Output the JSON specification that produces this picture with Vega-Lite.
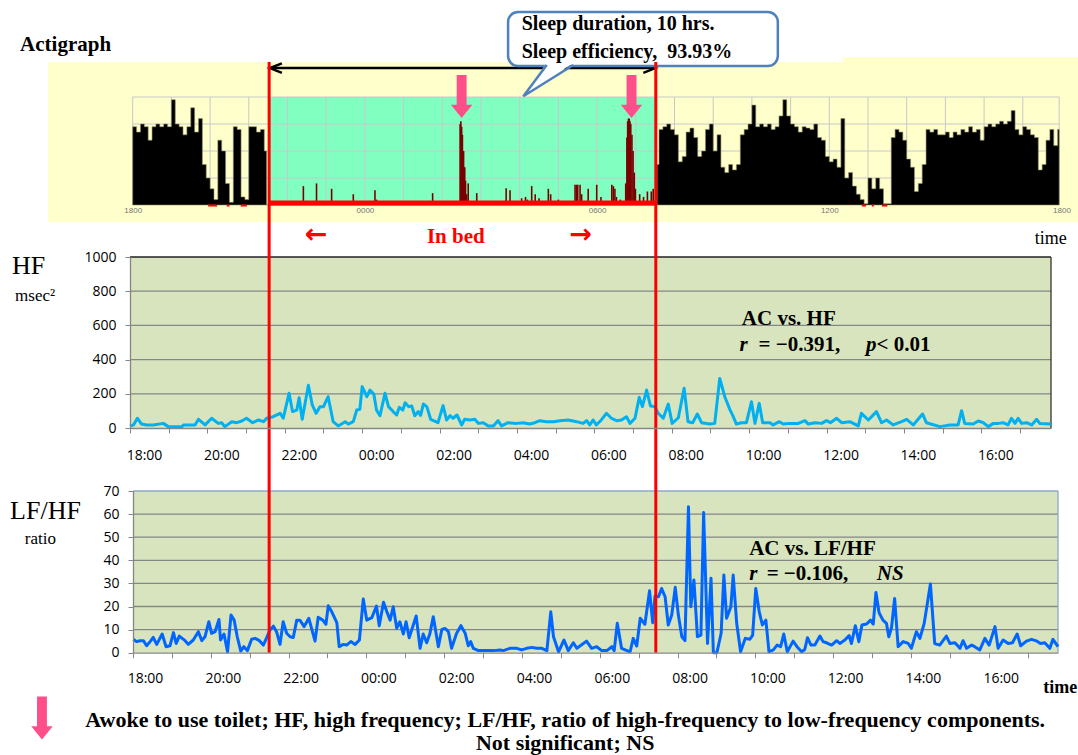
{
"$schema": "https://vega.github.io/schema/vega-lite/v6.json",
"width": 1078, "height": 755,
"autosize": {"type": "none"},
"padding": 0,
"background": "white",
"config": {"view": {"stroke": null}, "font": "Liberation Serif", "axis": {"grid": false, "title": null}},
"datasets": {
"actBg": [{"h":15.81,"h2":42.6,"v":-63,"v2":530},{"h":36.35,"h2":42.6,"v":-63,"v2":548}],
"actBed": [{"h":21.5,"h2":31.5,"v":0,"v2":400}],
"actGridV": [{"h":18,"v":0,"v2":400},{"h":19,"v":0,"v2":400},{"h":20,"v":0,"v2":400},{"h":21,"v":0,"v2":400},{"h":22,"v":0,"v2":400},{"h":23,"v":0,"v2":400},{"h":24,"v":0,"v2":400},{"h":25,"v":0,"v2":400},{"h":26,"v":0,"v2":400},{"h":27,"v":0,"v2":400},{"h":28,"v":0,"v2":400},{"h":29,"v":0,"v2":400},{"h":30,"v":0,"v2":400},{"h":31,"v":0,"v2":400},{"h":32,"v":0,"v2":400},{"h":33,"v":0,"v2":400},{"h":34,"v":0,"v2":400},{"h":35,"v":0,"v2":400},{"h":36,"v":0,"v2":400},{"h":37,"v":0,"v2":400},{"h":38,"v":0,"v2":400},{"h":39,"v":0,"v2":400},{"h":40,"v":0,"v2":400},{"h":41,"v":0,"v2":400},{"h":41.94,"v":0,"v2":400}],
"actGridH": [{"h":18,"h2":41.94,"v":100},{"h":18,"h2":41.94,"v":200},{"h":18,"h2":41.94,"v":300},{"h":18,"h2":41.94,"v":400}],
"actAwake": [
{"h":18.0,"v":290},{"h":18.1,"v":270},{"h":18.2,"v":300},{"h":18.3,"v":290},{"h":18.4,"v":240},{"h":18.5,"v":290},{"h":18.6,"v":300},{"h":18.7,"v":290},{"h":18.8,"v":300},{"h":18.9,"v":290},{"h":19.0,"v":390},{"h":19.1,"v":300},{"h":19.2,"v":290},{"h":19.3,"v":260},{"h":19.4,"v":290},{"h":19.5,"v":360},{"h":19.6,"v":270},{"h":19.7,"v":320},{"h":19.8,"v":150},{"h":19.9,"v":100},{"h":20.0,"v":60},{"h":20.1,"v":20},{"h":20.2,"v":240},{"h":20.3,"v":200},{"h":20.4,"v":80},{"h":20.5,"v":10},{"h":20.6,"v":290},{"h":20.7,"v":280},{"h":20.8,"v":30},{"h":20.9,"v":20},{"h":21.0,"v":290},{"h":21.1,"v":290},{"h":21.2,"v":270},{"h":21.3,"v":280},{"h":21.4,"v":200},{"h":21.46,"v":0},
{"h":31.53,"v":0},{"h":31.55,"v":150},{"h":31.6,"v":280},{"h":31.7,"v":290},{"h":31.8,"v":300},{"h":31.9,"v":280},{"h":32.0,"v":260},{"h":32.1,"v":160},{"h":32.2,"v":180},{"h":32.3,"v":270},{"h":32.4,"v":285},{"h":32.5,"v":250},{"h":32.6,"v":180},{"h":32.7,"v":200},{"h":32.8,"v":280},{"h":32.9,"v":300},{"h":33.0,"v":200},{"h":33.1,"v":260},{"h":33.2,"v":140},{"h":33.3,"v":120},{"h":33.4,"v":150},{"h":33.5,"v":130},{"h":33.6,"v":150},{"h":33.7,"v":260},{"h":33.8,"v":280},{"h":33.9,"v":300},{"h":34.0,"v":370},{"h":34.1,"v":290},{"h":34.2,"v":300},{"h":34.3,"v":290},{"h":34.4,"v":300},{"h":34.5,"v":280},{"h":34.6,"v":290},{"h":34.7,"v":330},{"h":34.8,"v":390},{"h":34.9,"v":330},{"h":35.0,"v":300},{"h":35.1,"v":290},{"h":35.2,"v":270},{"h":35.3,"v":290},{"h":35.4,"v":285},{"h":35.5,"v":280},{"h":35.6,"v":300},{"h":35.7,"v":250},{"h":35.8,"v":240},{"h":35.9,"v":180},{"h":36.0,"v":160},{"h":36.1,"v":170},{"h":36.2,"v":140},{"h":36.3,"v":320},{"h":36.4,"v":100},{"h":36.5,"v":120},{"h":36.6,"v":70},{"h":36.7,"v":40},{"h":36.8,"v":20},{"h":36.9,"v":5},{"h":37.0,"v":100},{"h":37.1,"v":60},{"h":37.2,"v":100},{"h":37.3,"v":60},{"h":37.4,"v":5},{"h":37.5,"v":5},{"h":37.6,"v":250},{"h":37.7,"v":280},{"h":37.8,"v":270},{"h":37.9,"v":240},{"h":38.0,"v":170},{"h":38.1,"v":140},{"h":38.2,"v":50},{"h":38.3,"v":80},{"h":38.4,"v":150},{"h":38.5,"v":280},{"h":38.6,"v":270},{"h":38.7,"v":280},{"h":38.8,"v":260},{"h":38.9,"v":260},{"h":39.0,"v":270},{"h":39.1,"v":250},{"h":39.2,"v":270},{"h":39.3,"v":260},{"h":39.4,"v":280},{"h":39.5,"v":270},{"h":39.6,"v":290},{"h":39.7,"v":270},{"h":39.8,"v":280},{"h":39.9,"v":240},{"h":40.0,"v":290},{"h":40.1,"v":300},{"h":40.2,"v":290},{"h":40.3,"v":300},{"h":40.4,"v":310},{"h":40.5,"v":300},{"h":40.6,"v":310},{"h":40.7,"v":350},{"h":40.8,"v":280},{"h":40.9,"v":260},{"h":41.0,"v":290},{"h":41.1,"v":280},{"h":41.2,"v":260},{"h":41.3,"v":250},{"h":41.4,"v":130},{"h":41.5,"v":150},{"h":41.6,"v":240},{"h":41.7,"v":280},{"h":41.8,"v":220},{"h":41.9,"v":280},{"h":41.94,"v":280}],
"actBedSpikes": [{"h":21.59,"v":15},{"h":21.8,"v":15},{"h":22.41,"v":70},{"h":22.75,"v":80},{"h":23.14,"v":60},{"h":23.7,"v":40},{"h":24.26,"v":55},{"h":24.3,"v":20},{"h":25.75,"v":44},{"h":26.46,"v":300},{"h":26.48,"v":310},{"h":26.5,"v":290},{"h":26.52,"v":260},{"h":26.55,"v":200},{"h":26.58,"v":140},{"h":26.6,"v":90},{"h":26.63,"v":40},{"h":26.67,"v":80},{"h":26.89,"v":44},{"h":27.65,"v":62},{"h":27.75,"v":55},{"h":28.05,"v":25},{"h":28.15,"v":30},{"h":28.2,"v":20},{"h":28.31,"v":70},{"h":28.4,"v":40},{"h":28.5,"v":25},{"h":28.74,"v":60},{"h":28.8,"v":40},{"h":29.0,"v":20},{"h":29.43,"v":75},{"h":29.47,"v":75},{"h":29.5,"v":75},{"h":29.56,"v":75},{"h":29.6,"v":40},{"h":29.77,"v":60},{"h":29.99,"v":75},{"h":30.1,"v":30},{"h":30.38,"v":75},{"h":30.42,"v":70},{"h":30.46,"v":60},{"h":30.5,"v":30},{"h":30.6,"v":20},{"h":30.74,"v":80},{"h":30.77,"v":250},{"h":30.79,"v":310},{"h":30.81,"v":320},{"h":30.83,"v":320},{"h":30.85,"v":310},{"h":30.87,"v":300},{"h":30.9,"v":260},{"h":30.93,"v":200},{"h":30.96,"v":120},{"h":30.99,"v":60},{"h":31.1,"v":40},{"h":31.2,"v":30},{"h":31.3,"v":50},{"h":31.4,"v":50},{"h":31.45,"v":60}],
"actRedBase": [{"h":21.5,"h2":31.5,"v":7}],
"actZeroMarks": [{"h":19.95,"h2":20.18,"v":-2},{"h":20.43,"h2":20.5,"v":-2},{"h":20.79,"h2":20.95,"v":-2},{"h":36.84,"h2":36.95,"v":-2},{"h":37.1,"h2":37.15,"v":-2},{"h":37.36,"h2":37.5,"v":-2}],
"hfLine": [
{"h":18.00,"v":12},{"h":18.09,"v":18},{"h":18.19,"v":57},{"h":18.30,"v":23},{"h":18.43,"v":18},{"h":18.60,"v":18},{"h":18.86,"v":27},{"h":18.99,"v":8},{"h":19.34,"v":8},{"h":19.38,"v":18},{"h":19.68,"v":18},{"h":19.77,"v":51},{"h":19.94,"v":18},{"h":20.11,"v":57},{"h":20.28,"v":27},{"h":20.37,"v":31},{"h":20.45,"v":8},{"h":20.63,"v":37},{"h":20.76,"v":31},{"h":20.89,"v":41},{"h":21.01,"v":57},{"h":21.17,"v":31},{"h":21.32,"v":47},{"h":21.45,"v":37},{"h":21.53,"v":57},{"h":21.70,"v":66},{"h":21.88,"v":86},{"h":21.96,"v":57},{"h":22.11,"v":203},{"h":22.20,"v":96},{"h":22.31,"v":105},{"h":22.37,"v":177},{"h":22.45,"v":51},{"h":22.61,"v":250},{"h":22.71,"v":135},{"h":22.81,"v":86},{"h":22.91,"v":125},{"h":23.00,"v":125},{"h":23.12,"v":183},{"h":23.25,"v":37},{"h":23.38,"v":12},{"h":23.56,"v":37},{"h":23.64,"v":23},{"h":23.77,"v":37},{"h":23.86,"v":105},{"h":23.94,"v":109},{"h":24.00,"v":242},{"h":24.12,"v":183},{"h":24.20,"v":222},{"h":24.30,"v":199},{"h":24.37,"v":105},{"h":24.46,"v":72},{"h":24.59,"v":203},{"h":24.68,"v":125},{"h":24.80,"v":96},{"h":24.89,"v":76},{"h":24.96,"v":121},{"h":25.05,"v":105},{"h":25.11,"v":148},{"h":25.20,"v":125},{"h":25.28,"v":129},{"h":25.36,"v":72},{"h":25.45,"v":96},{"h":25.51,"v":74},{"h":25.58,"v":140},{"h":25.67,"v":125},{"h":25.77,"v":51},{"h":25.96,"v":31},{"h":26.09,"v":131},{"h":26.18,"v":47},{"h":26.27,"v":72},{"h":26.35,"v":57},{"h":26.45,"v":76},{"h":26.57,"v":18},{"h":26.65,"v":51},{"h":26.78,"v":47},{"h":26.91,"v":51},{"h":27.00,"v":27},{"h":27.13,"v":31},{"h":27.26,"v":12},{"h":27.39,"v":12},{"h":27.51,"v":43},{"h":27.60,"v":12},{"h":27.77,"v":31},{"h":27.99,"v":27},{"h":28.16,"v":31},{"h":28.33,"v":23},{"h":28.46,"v":31},{"h":28.59,"v":43},{"h":28.76,"v":37},{"h":28.94,"v":37},{"h":29.11,"v":43},{"h":29.32,"v":47},{"h":29.54,"v":37},{"h":29.71,"v":27},{"h":29.80,"v":43},{"h":29.88,"v":18},{"h":29.97,"v":47},{"h":30.05,"v":18},{"h":30.18,"v":47},{"h":30.31,"v":86},{"h":30.44,"v":57},{"h":30.57,"v":43},{"h":30.70,"v":47},{"h":30.83,"v":66},{"h":30.92,"v":27},{"h":31.05,"v":57},{"h":31.16,"v":179},{"h":31.24,"v":125},{"h":31.35,"v":222},{"h":31.45,"v":129},{"h":31.56,"v":125},{"h":31.65,"v":86},{"h":31.78,"v":57},{"h":31.91,"v":140},{"h":32.01,"v":27},{"h":32.17,"v":60},{"h":32.32,"v":232},{"h":32.42,"v":37},{"h":32.54,"v":31},{"h":32.66,"v":82},{"h":32.77,"v":31},{"h":32.98,"v":23},{"h":33.11,"v":27},{"h":33.24,"v":290},{"h":33.37,"v":183},{"h":33.50,"v":109},{"h":33.59,"v":66},{"h":33.67,"v":23},{"h":33.80,"v":31},{"h":33.93,"v":31},{"h":34.06,"v":154},{"h":34.15,"v":27},{"h":34.26,"v":144},{"h":34.35,"v":31},{"h":34.54,"v":31},{"h":34.62,"v":18},{"h":34.78,"v":37},{"h":34.88,"v":23},{"h":35.05,"v":27},{"h":35.27,"v":27},{"h":35.44,"v":43},{"h":35.53,"v":23},{"h":35.70,"v":31},{"h":35.87,"v":27},{"h":36.00,"v":43},{"h":36.10,"v":31},{"h":36.26,"v":57},{"h":36.39,"v":31},{"h":36.60,"v":37},{"h":36.82,"v":12},{"h":36.90,"v":86},{"h":37.08,"v":47},{"h":37.29,"v":96},{"h":37.42,"v":31},{"h":37.55,"v":47},{"h":37.72,"v":18},{"h":37.94,"v":37},{"h":38.07,"v":51},{"h":38.24,"v":18},{"h":38.48,"v":82},{"h":38.58,"v":31},{"h":38.93,"v":8},{"h":39.19,"v":18},{"h":39.40,"v":18},{"h":39.49,"v":101},{"h":39.57,"v":27},{"h":39.79,"v":23},{"h":39.92,"v":41},{"h":40.05,"v":31},{"h":40.18,"v":8},{"h":40.31,"v":27},{"h":40.44,"v":27},{"h":40.56,"v":31},{"h":40.69,"v":18},{"h":40.78,"v":57},{"h":40.87,"v":27},{"h":40.95,"v":57},{"h":41.04,"v":27},{"h":41.17,"v":31},{"h":41.30,"v":18},{"h":41.43,"v":51},{"h":41.51,"v":27},{"h":41.80,"v":23}],
"lfLine": [
{"h":18.01,"v":5.8},{"h":18.09,"v":4.8},{"h":18.18,"v":5.2},{"h":18.27,"v":5.2},{"h":18.35,"v":3.0},{"h":18.44,"v":4.8},{"h":18.52,"v":6.6},{"h":18.61,"v":3.6},{"h":18.75,"v":8.1},{"h":18.85,"v":2.6},{"h":18.95,"v":3.0},{"h":19.04,"v":8.7},{"h":19.11,"v":4.0},{"h":19.19,"v":7.2},{"h":19.34,"v":5.2},{"h":19.42,"v":3.6},{"h":19.55,"v":5.5},{"h":19.68,"v":9.1},{"h":19.77,"v":5.2},{"h":19.85,"v":6.9},{"h":19.95,"v":13.4},{"h":20.02,"v":8.4},{"h":20.11,"v":9.1},{"h":20.21,"v":14.4},{"h":20.25,"v":5.5},{"h":20.34,"v":8.1},{"h":20.43,"v":0.4},{"h":20.52,"v":16.3},{"h":20.60,"v":14.1},{"h":20.68,"v":6.9},{"h":20.77,"v":0.7},{"h":20.85,"v":2.6},{"h":20.94,"v":0.9},{"h":21.05,"v":5.8},{"h":21.14,"v":6.2},{"h":21.25,"v":5.2},{"h":21.35,"v":3.3},{"h":21.44,"v":6.6},{"h":21.52,"v":9.8},{"h":21.61,"v":11.5},{"h":21.69,"v":9.1},{"h":21.78,"v":3.6},{"h":21.86,"v":13.4},{"h":21.95,"v":8.4},{"h":22.04,"v":6.9},{"h":22.12,"v":6.6},{"h":22.21,"v":14.1},{"h":22.29,"v":14.1},{"h":22.40,"v":11.3},{"h":22.52,"v":14.9},{"h":22.68,"v":5.0},{"h":22.76,"v":15.3},{"h":22.88,"v":14.1},{"h":22.96,"v":12.3},{"h":23.02,"v":20.3},{"h":23.11,"v":17.7},{"h":23.24,"v":13.0},{"h":23.30,"v":2.6},{"h":23.41,"v":3.6},{"h":23.49,"v":3.3},{"h":23.60,"v":4.8},{"h":23.71,"v":3.6},{"h":23.82,"v":5.5},{"h":23.92,"v":23.2},{"h":24.01,"v":14.1},{"h":24.14,"v":15.2},{"h":24.26,"v":20.2},{"h":24.33,"v":11.7},{"h":24.44,"v":21.8},{"h":24.52,"v":18.0},{"h":24.61,"v":14.1},{"h":24.69,"v":19.9},{"h":24.78,"v":10.6},{"h":24.86,"v":13.4},{"h":24.95,"v":8.1},{"h":25.02,"v":13.4},{"h":25.10,"v":6.5},{"h":25.28,"v":15.9},{"h":25.38,"v":1.9},{"h":25.46,"v":8.1},{"h":25.55,"v":4.3},{"h":25.63,"v":8.1},{"h":25.72,"v":15.6},{"h":25.85,"v":2.6},{"h":25.94,"v":10.1},{"h":26.02,"v":10.5},{"h":26.11,"v":9.1},{"h":26.19,"v":1.9},{"h":26.32,"v":8.4},{"h":26.43,"v":11.7},{"h":26.54,"v":8.4},{"h":26.62,"v":3.0},{"h":26.68,"v":4.8},{"h":26.75,"v":1.9},{"h":26.88,"v":0.9},{"h":27.09,"v":0.9},{"h":27.27,"v":0.9},{"h":27.44,"v":1.2},{"h":27.52,"v":0.9},{"h":27.69,"v":1.9},{"h":27.87,"v":1.9},{"h":27.99,"v":1.2},{"h":28.12,"v":1.9},{"h":28.25,"v":2.3},{"h":28.38,"v":1.9},{"h":28.51,"v":1.9},{"h":28.64,"v":0.9},{"h":28.74,"v":17.7},{"h":28.81,"v":6.9},{"h":28.94,"v":0.4},{"h":29.08,"v":5.5},{"h":29.19,"v":0.9},{"h":29.32,"v":4.3},{"h":29.41,"v":1.9},{"h":29.49,"v":2.9},{"h":29.66,"v":5.0},{"h":29.79,"v":1.9},{"h":29.92,"v":2.6},{"h":30.05,"v":0.9},{"h":30.18,"v":0.9},{"h":30.31,"v":2.6},{"h":30.37,"v":0.9},{"h":30.45,"v":12.7},{"h":30.56,"v":1.9},{"h":30.78,"v":0.4},{"h":30.86,"v":6.2},{"h":30.95,"v":2.9},{"h":31.04,"v":14.9},{"h":31.16,"v":12.3},{"h":31.28,"v":26.8},{"h":31.36,"v":13.0},{"h":31.42,"v":24.5},{"h":31.51,"v":24.2},{"h":31.59,"v":27.8},{"h":31.68,"v":24.2},{"h":31.76,"v":12.0},{"h":31.85,"v":16.3},{"h":31.94,"v":28.3},{"h":32.02,"v":16.3},{"h":32.11,"v":6.9},{"h":32.19,"v":5.2},{"h":32.28,"v":63.2},{"h":32.34,"v":19.9},{"h":32.42,"v":31.5},{"h":32.51,"v":6.9},{"h":32.60,"v":7.6},{"h":32.67,"v":60.7},{"h":32.77,"v":4.0},{"h":32.86,"v":32.2},{"h":32.92,"v":0},{"h":33.01,"v":0},{"h":33.12,"v":8.4},{"h":33.19,"v":33.6},{"h":33.26,"v":14.9},{"h":33.37,"v":19.9},{"h":33.43,"v":33.6},{"h":33.52,"v":12.7},{"h":33.62,"v":0.4},{"h":33.74,"v":6.2},{"h":33.86,"v":5.8},{"h":33.93,"v":7.6},{"h":34.01,"v":27.8},{"h":34.10,"v":17.7},{"h":34.18,"v":12.0},{"h":34.27,"v":14.1},{"h":34.35,"v":0.4},{"h":34.46,"v":1.2},{"h":34.56,"v":3.3},{"h":34.65,"v":2.6},{"h":34.73,"v":8.1},{"h":34.82,"v":0.4},{"h":34.97,"v":5.0},{"h":35.07,"v":2.6},{"h":35.19,"v":0.4},{"h":35.27,"v":1.4},{"h":35.34,"v":6.5},{"h":35.43,"v":3.3},{"h":35.53,"v":3.3},{"h":35.66,"v":7.2},{"h":35.74,"v":4.8},{"h":35.83,"v":4.3},{"h":35.96,"v":3.3},{"h":36.09,"v":5.2},{"h":36.17,"v":4.0},{"h":36.30,"v":5.5},{"h":36.41,"v":7.4},{"h":36.47,"v":4.0},{"h":36.57,"v":11.7},{"h":36.66,"v":4.8},{"h":36.74,"v":12.0},{"h":36.86,"v":12.4},{"h":36.96,"v":14.1},{"h":37.03,"v":12.4},{"h":37.10,"v":26.1},{"h":37.18,"v":17.3},{"h":37.28,"v":14.1},{"h":37.37,"v":12.7},{"h":37.43,"v":6.9},{"h":37.50,"v":10.8},{"h":37.58,"v":23.5},{"h":37.67,"v":2.6},{"h":37.80,"v":4.8},{"h":37.93,"v":4.0},{"h":38.01,"v":1.9},{"h":38.14,"v":9.1},{"h":38.23,"v":6.2},{"h":38.34,"v":12.7},{"h":38.50,"v":29.7},{"h":38.61,"v":4.0},{"h":38.74,"v":3.3},{"h":38.91,"v":7.2},{"h":39.00,"v":4.0},{"h":39.13,"v":4.3},{"h":39.26,"v":1.9},{"h":39.34,"v":5.2},{"h":39.43,"v":1.9},{"h":39.56,"v":3.3},{"h":39.64,"v":2.6},{"h":39.77,"v":1.2},{"h":39.90,"v":6.2},{"h":40.01,"v":3.3},{"h":40.16,"v":11.3},{"h":40.24,"v":1.9},{"h":40.37,"v":5.5},{"h":40.50,"v":4.0},{"h":40.61,"v":4.3},{"h":40.73,"v":8.1},{"h":40.82,"v":3.0},{"h":40.97,"v":5.0},{"h":41.10,"v":5.8},{"h":41.24,"v":5.0},{"h":41.33,"v":4.0},{"h":41.44,"v":4.3},{"h":41.57,"v":1.9},{"h":41.65,"v":5.8},{"h":41.78,"v":2.6}]
},
"layer": [
{
"encoding": {
"x": {"field": "h", "type": "quantitative", "scale": {"domain": [18, 42], "range": [132.7, 1061.5], "nice": false, "zero": false},
"axis": {"orient": "bottom", "offset": -550, "zindex": 1, "values": [18, 24, 30, 36, 42], "labelExpr": "(datum.value % 24 < 10 ? '0' : '') + (datum.value % 24) + '00'", "ticks": false, "domain": false, "labelFont": "Liberation Sans", "labelFontSize": 8, "labelColor": "#777777", "labelPadding": 1, "labelFlush": false, "labelOverlap": false}},
"y": {"field": "v", "type": "quantitative", "scale": {"domain": [0, 400], "range": [205, 97], "nice": false, "zero": false}, "axis": null}
},
"layer": [
{"data": {"name": "actBg"}, "mark": {"type": "rect", "fill": "#FFFFCC"}, "encoding": {"x2": {"field": "h2"}, "y2": {"field": "v2"}}},
{"data": {"name": "actBed"}, "mark": {"type": "rect", "fill": "#80FFC0"}, "encoding": {"x2": {"field": "h2"}, "y2": {"field": "v2"}}},
{"data": {"name": "actGridV"}, "mark": {"type": "rule", "color": "#C8C8C8", "strokeWidth": 1}, "encoding": {"y2": {"field": "v2"}}},
{"data": {"name": "actGridH"}, "mark": {"type": "rule", "color": "#C8C8C8", "strokeWidth": 1}, "encoding": {"x2": {"field": "h2"}}},
{"data": {"name": "actAwake"}, "mark": {"type": "area", "interpolate": "step-after", "color": "black", "stroke": "#8E8A6A", "strokeWidth": 0.6}, "encoding": {"y2": {"datum": 0}}},
{"data": {"name": "actBedSpikes"}, "mark": {"type": "rule", "color": "#7A0000", "strokeWidth": 1.6}, "encoding": {"y2": {"datum": 0}}},
{"data": {"name": "actRedBase"}, "mark": {"type": "rule", "color": "#FF0000", "strokeWidth": 5}, "encoding": {"x2": {"field": "h2"}}},
{"data": {"name": "actZeroMarks"}, "mark": {"type": "rule", "color": "#FF0000", "strokeWidth": 2}, "encoding": {"x2": {"field": "h2"}}},
{"data": {"values": [{"h": 21.55, "h2": 31.5, "v": 507}]}, "mark": {"type": "rule", "color": "black", "strokeWidth": 2.5}, "encoding": {"x2": {"field": "h2"}}},
{"data": {"values": [{"h": 21.7, "v": 507}]}, "mark": {"type": "point", "shape": "M1,-0.8L-1,0L1,0.8", "size": 144, "filled": false, "stroke": "black", "strokeWidth": 2.5, "opacity": 1}},
{"data": {"values": [{"h": 31.35, "v": 507}]}, "mark": {"type": "point", "shape": "M-1,-0.8L1,0L-1,0.8", "size": 144, "filled": false, "stroke": "black", "strokeWidth": 2.5, "opacity": 1}},
{"data": {"values": [{"h": 26.5, "v": 402}, {"h": 30.89, "v": 402}]}, "mark": {"type": "point", "shape": "M-0.23,-1L0.23,-1L0.23,0.38L0.5,0.38L0,1L-0.5,0.38L-0.23,0.38Z", "size": 1849, "filled": true, "fill": "#FF4F8B", "strokeWidth": 0, "opacity": 1}},
{"data": {"values": [{"h": 27.7, "h2": 34.67, "v": 515, "v2": 715}]}, "mark": {"type": "rect", "fill": "white", "stroke": "#4F81BD", "strokeWidth": 2.5, "cornerRadius": 10}, "encoding": {"x2": {"field": "h2"}, "y2": {"field": "v2"}}},
{"data": {"values": [{"h": 28.74, "v": 460.6}]}, "mark": {"type": "point", "shape": "M-0.064,-0.72L-1,0.626L1,-0.72Z", "size": 2500, "filled": true, "fill": "white", "strokeWidth": 0, "opacity": 1}},
{"data": {"values": [{"h": 28.74, "v": 460.6}]}, "mark": {"type": "point", "shape": "M-0.064,-0.626L-1,0.626L1,-0.626", "size": 2500, "filled": false, "stroke": "#4F81BD", "strokeWidth": 2.5, "opacity": 1}},
{"data": {"values": [{"h": 15.09, "v": 571.5, "label": "Actigraph"}]}, "mark": {"type": "text", "font": "Liberation Serif", "fontWeight": "bold", "fontSize": 21, "align": "left", "baseline": "alphabetic", "color": "black"}, "encoding": {"text": {"field": "label"}}},
{"data": {"values": [{"h": 28.05, "v": 648, "label": "Sleep duration, 10 hrs."}, {"h": 28.05, "v": 546, "label": "Sleep efficiency,\u00a0 93.93%"}]}, "mark": {"type": "text", "font": "Liberation Serif", "fontWeight": "bold", "fontSize": 20, "align": "left", "baseline": "alphabetic", "color": "black"}, "encoding": {"text": {"field": "label"}}}
]
},
{
"encoding": {
"x": {"field": "h", "type": "quantitative", "scale": {"domain": [18, 41.8], "range": [130, 1051], "nice": false, "zero": false},
"axis": {"orient": "bottom", "offset": -327, "zindex": 1, "values": [18,19,20,21,22,23,24,25,26,27,28,29,30,31,32,33,34,35,36,37,38,39,40,41], "labelExpr": "datum.value % 2 == 0 ? ((datum.value % 24 < 10 ? '0' : '') + (datum.value % 24) + ':00') : ''", "tickSize": 5, "tickColor": "#868686", "domainColor": "#868686", "domainWidth": 1.3, "labelOffset": 14, "labelPadding": 15, "labelFont": "Open Sans", "labelFontSize": 14, "labelColor": "black", "labelFlush": false, "labelOverlap": false}},
"y": {"field": "v", "type": "quantitative", "scale": {"domain": [0, 1000], "range": [428, 257], "nice": false, "zero": false},
"axis": {"orient": "left", "offset": -130, "zindex": 1, "values": [0, 200, 400, 600, 800, 1000], "format": "d", "tickSize": 5, "tickColor": "#868686", "domainColor": "#868686", "domainWidth": 1.3, "labelPadding": 9, "labelFont": "Open Sans", "labelFontSize": 14, "labelColor": "black", "labelOverlap": false}}
},
"layer": [
{"data": {"values": [{"h": 18, "h2": 41.8, "v": 0, "v2": 1000}]}, "mark": {"type": "rect", "fill": "#D7E4BD"}, "encoding": {"x2": {"field": "h2"}, "y2": {"field": "v2"}}},
{"data": {"values": [{"h": 18, "h2": 41.8, "v": 200}, {"h": 18, "h2": 41.8, "v": 400}, {"h": 18, "h2": 41.8, "v": 600}, {"h": 18, "h2": 41.8, "v": 800}]}, "mark": {"type": "rule", "color": "#868686", "strokeWidth": 1.3}, "encoding": {"x2": {"field": "h2"}}},
{"data": {"values": [{"h": 18, "h2": 41.8, "v": 1000}]}, "mark": {"type": "rule", "color": "#222222", "strokeWidth": 1.3}, "encoding": {"x2": {"field": "h2"}}},
{"data": {"values": [{"h": 41.8, "v": 0, "v2": 1000}]}, "mark": {"type": "rule", "color": "#333333", "strokeWidth": 1.3}, "encoding": {"y2": {"field": "v2"}}},
{"data": {"name": "hfLine"}, "mark": {"type": "line", "color": "#00B0F0", "strokeWidth": 3, "strokeJoin": "round"}},
{"data": {"values": [{"h": 14.95, "v": 900, "label": "HF"}]}, "mark": {"type": "text", "font": "Liberation Serif", "fontSize": 26, "align": "left", "baseline": "alphabetic", "color": "black"}, "encoding": {"text": {"field": "label"}}},
{"data": {"values": [{"h": 15.03, "v": 743, "label": "msec²"}]}, "mark": {"type": "text", "font": "Liberation Serif", "fontSize": 17, "align": "left", "baseline": "alphabetic", "color": "black"}, "encoding": {"text": {"field": "label"}}},
{"data": {"values": [{"h": 41.38, "v": 1076, "label": "time"}]}, "mark": {"type": "text", "font": "Liberation Serif", "fontSize": 18, "align": "left", "baseline": "alphabetic", "color": "black"}, "encoding": {"text": {"field": "label"}}},
{"data": {"values": [{"h": 26.42, "v": 1082, "label": "In bed"}]}, "mark": {"type": "text", "font": "Liberation Serif", "fontWeight": "bold", "fontSize": 21, "align": "center", "baseline": "alphabetic", "color": "#FF0000"}, "encoding": {"text": {"field": "label"}}},
{"data": {"values": [{"h": 22.81, "v": 1129, "label": "←"}, {"h": 29.65, "v": 1129, "label": "→"}]}, "mark": {"type": "text", "font": "DejaVu Sans", "fontWeight": "bold", "fontSize": 27, "align": "center", "baseline": "middle", "color": "#FF0000"}, "encoding": {"text": {"field": "label"}}},
{"data": {"values": [{"h": 33.81, "v": 602, "label": "AC vs. HF"}, {"h": 34.24, "v": 452, "label": "=  −0.391,"}, {"h": 37.29, "v": 452, "label": "< 0.01"}]}, "mark": {"type": "text", "font": "Liberation Serif", "fontWeight": "bold", "fontSize": 21, "align": "left", "baseline": "alphabetic", "color": "black"}, "encoding": {"text": {"field": "label"}}},
{"data": {"values": [{"h": 33.75, "v": 452, "label": "r"}, {"h": 37.02, "v": 452, "label": "p"}]}, "mark": {"type": "text", "font": "Liberation Serif", "fontWeight": "bold", "fontStyle": "italic", "fontSize": 21, "align": "left", "baseline": "alphabetic", "color": "black"}, "encoding": {"text": {"field": "label"}}}
]
},
{
"encoding": {
"x": {"field": "h", "type": "quantitative", "scale": {"domain": [18, 41.78], "range": [133, 1058], "nice": false, "zero": false},
"axis": {"orient": "bottom", "offset": -102.3, "zindex": 1, "values": [18,19,20,21,22,23,24,25,26,27,28,29,30,31,32,33,34,35,36,37,38,39,40,41], "labelExpr": "datum.value % 2 == 0 ? ((datum.value % 24 < 10 ? '0' : '') + (datum.value % 24) + ':00') : ''", "tickSize": 5, "tickColor": "#868686", "domainColor": "#868686", "domainWidth": 1.3, "labelOffset": 12, "labelPadding": 14, "labelFont": "Open Sans", "labelFontSize": 14, "labelColor": "black", "labelFlush": false, "labelOverlap": false}},
"y": {"field": "v", "type": "quantitative", "scale": {"domain": [0, 70], "range": [652.7, 491], "nice": false, "zero": false},
"axis": {"orient": "left", "offset": -133, "zindex": 1, "values": [0, 10, 20, 30, 40, 50, 60, 70], "format": "d", "tickSize": 5, "tickColor": "#868686", "domainColor": "#868686", "domainWidth": 1.3, "labelPadding": 9, "labelFont": "Open Sans", "labelFontSize": 14, "labelColor": "black", "labelOverlap": false}}
},
"layer": [
{"data": {"values": [{"h": 18, "h2": 41.78, "v": 0, "v2": 70}]}, "mark": {"type": "rect", "fill": "#D7E4BD"}, "encoding": {"x2": {"field": "h2"}, "y2": {"field": "v2"}}},
{"data": {"values": [{"h": 18, "h2": 41.78, "v": 10}, {"h": 18, "h2": 41.78, "v": 20}, {"h": 18, "h2": 41.78, "v": 30}, {"h": 18, "h2": 41.78, "v": 40}, {"h": 18, "h2": 41.78, "v": 50}, {"h": 18, "h2": 41.78, "v": 60}]}, "mark": {"type": "rule", "color": "#868686", "strokeWidth": 1.3}, "encoding": {"x2": {"field": "h2"}}},
{"data": {"values": [{"h": 18, "h2": 41.78, "v": 70}]}, "mark": {"type": "rule", "color": "#8EA9C8", "strokeWidth": 1.3}, "encoding": {"x2": {"field": "h2"}}},
{"data": {"values": [{"h": 41.78, "v": 0, "v2": 70}]}, "mark": {"type": "rule", "color": "#8EA9C8", "strokeWidth": 1.3}, "encoding": {"y2": {"field": "v2"}}},
{"data": {"name": "lfLine"}, "mark": {"type": "line", "color": "#0066FF", "strokeWidth": 3, "strokeJoin": "round"}},
{"data": {"values": [{"h": 14.84, "v": 57.9, "label": "LF/HF"}]}, "mark": {"type": "text", "font": "Liberation Serif", "fontSize": 26, "align": "left", "baseline": "alphabetic", "color": "black"}, "encoding": {"text": {"field": "label"}}},
{"data": {"values": [{"h": 15.22, "v": 47.1, "label": "ratio"}]}, "mark": {"type": "text", "font": "Liberation Serif", "fontSize": 17, "align": "left", "baseline": "alphabetic", "color": "black"}, "encoding": {"text": {"field": "label"}}},
{"data": {"values": [{"h": 33.84, "v": 42.3, "label": "AC vs. LF/HF"}, {"h": 34.29, "v": 31.5, "label": "=  −0.106,"}]}, "mark": {"type": "text", "font": "Liberation Serif", "fontWeight": "bold", "fontSize": 21, "align": "left", "baseline": "alphabetic", "color": "black"}, "encoding": {"text": {"field": "label"}}},
{"data": {"values": [{"h": 33.84, "v": 31.5, "label": "r"}, {"h": 37.12, "v": 31.5, "label": "NS"}]}, "mark": {"type": "text", "font": "Liberation Serif", "fontWeight": "bold", "fontStyle": "italic", "fontSize": 21, "align": "left", "baseline": "alphabetic", "color": "black"}, "encoding": {"text": {"field": "label"}}},
{"data": {"values": [{"h": 41.4, "v": -17.6, "label": "time"}]}, "mark": {"type": "text", "font": "Liberation Serif", "fontWeight": "bold", "fontSize": 18, "align": "left", "baseline": "alphabetic", "color": "black"}, "encoding": {"text": {"field": "label"}}},
{"data": {"values": [{"h": 15.66, "v": -28.3}]}, "mark": {"type": "point", "shape": "M-0.23,-1L0.23,-1L0.23,0.38L0.5,0.38L0,1L-0.5,0.38L-0.23,0.38Z", "size": 1849, "filled": true, "fill": "#FF4F8B", "strokeWidth": 0, "opacity": 1}},
{"data": {"values": [{"h": 29.11, "v": -32.2, "label": "Awoke to use toilet; HF, high frequency; LF/HF, ratio of high-frequency to low-frequency components."}, {"h": 29.11, "v": -42.1, "label": "Not significant; NS"}]}, "mark": {"type": "text", "font": "Liberation Serif", "fontWeight": "bold", "fontSize": 22, "align": "center", "baseline": "alphabetic", "color": "black"}, "encoding": {"text": {"field": "label"}}},
{"data": {"values": [{"h": 21.5, "v": 0, "v2": 255.7}, {"h": 31.44, "v": 0, "v2": 255.7}]}, "mark": {"type": "rule", "color": "#FF0000", "strokeWidth": 3}, "encoding": {"y2": {"field": "v2"}}}
]
}
],
"resolve": {"scale": {"x": "independent", "y": "independent"}, "axis": {"x": "independent", "y": "independent"}}
}
